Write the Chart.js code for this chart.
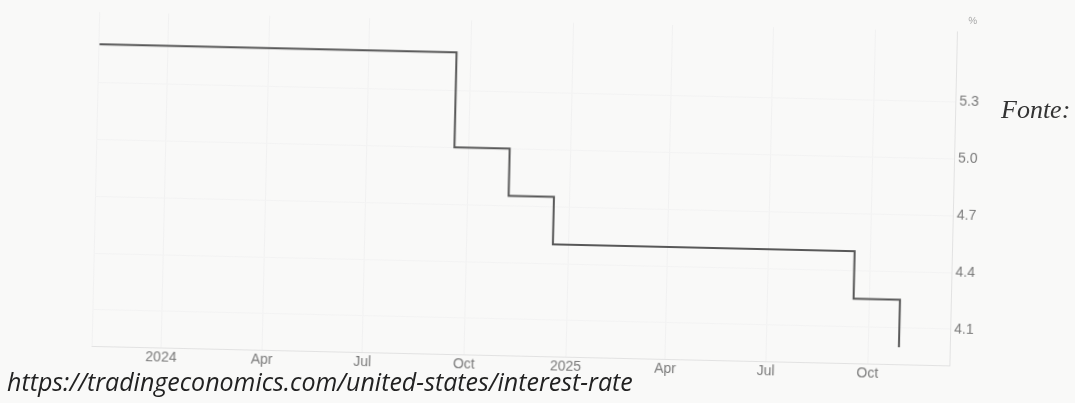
<!DOCTYPE html>
<html>
<head>
<meta charset="utf-8">
<script src="https://cdn.jsdelivr.net/npm/chart.js@4.4.1/dist/chart.umd.min.js"></script>
<style>
  html, body { margin: 0; padding: 0; width: 1075px; height: 403px; overflow: hidden; background: #f9f9f8; }
  /* the chart in the photo is tilted a little clockwise */
  #frame { position: absolute; left: 0; top: 0; width: 1075px; height: 403px;
           transform: rotate(1.3deg); transform-origin: 537.5px 201.5px; }
  #unit { position: absolute; left: 964px; top: 5px; font: 10px "Liberation Sans", Arial, sans-serif; color: #aaa; }
  #fonte { position: absolute; left: 1001px; top: 97px; font: italic 26px/26px "Liberation Serif", serif; color: #333; }
  #url { position: absolute; left: 7px; top: 369px; font: italic 25px/25px "Open Sans", sans-serif; color: #222; white-space: nowrap; }
</style>
</head>
<body>
<div id="frame">
  <canvas id="rateChart"></canvas>
  <span id="unit">%</span>
</div>
<div id="fonte">Fonte:</div>
<div id="url">https://tradingeconomics.com/united-states/interest-rate</div>

<script>
// Taxa de juros dos EUA (limite superior), datas das mudanças
const changeDates = ["2023-10-31", "2024-09-18", "2024-11-07", "2024-12-18", "2025-09-17", "2025-10-29"];
const rateValues = [5.5, 5.0, 4.75, 4.5, 4.25, 4.0];

// Rótulos do eixo x
const tickDates = ["2024-01-01", "2024-04-01", "2024-07-01", "2024-10-01", "2025-01-01", "2025-04-01", "2025-07-01", "2025-10-01"];
const tickLabels = ["2024", "Apr", "Jul", "Oct", "2025", "Apr", "Jul", "Oct"];

// Rótulos do eixo y
const yTicks = [4.1, 4.4, 4.7, 5.0, 5.3];

// dias desde 1 jan 2024
function dayOf(s) {
  return (Date.parse(s) - Date.parse("2024-01-01")) / 86400000;
}

const xMin = -63;
const xMax = 713;
const tickDays = tickDates.map(dayOf);

const ctx = document.getElementById("rateChart").getContext("2d");
new Chart(ctx, {
  type: "line",
  data: {
    datasets: [
      {
        data: changeDates.map((d, i) => ({ x: dayOf(d), y: rateValues[i] })),
        stepped: true,
        borderColor: "#585858",
        borderWidth: 2,
        pointRadius: 0,
        fill: false,
      },
    ],
  },
  options: {
    responsive: true,
    maintainAspectRatio: false,
    animation: false,
    layout: { padding: { left: 95, top: 22, right: 0, bottom: 0 } },
    plugins: {
      legend: { display: false },
      tooltip: { enabled: false },
    },
    scales: {
      x: {
        type: "linear",
        min: xMin,
        max: xMax,
        afterBuildTicks: (scale) => {
          scale.ticks = [{ value: xMin }].concat(tickDays.map((v) => ({ value: v })));
        },
        afterFit: (scale) => {
          scale.height = 47;
        },
        ticks: {
          autoSkip: false,
          maxRotation: 0,
          padding: 2,
          color: "#7a7a7a",
          font: { family: "'Liberation Sans', Arial, sans-serif", size: 14 },
          callback: (value) => {
            const i = tickDays.indexOf(value);
            return i >= 0 ? tickLabels[i] : "";
          },
        },
        grid: { color: "#f1f1f1", drawTicks: false },
        border: { display: true, color: "#e2e2e2" },
      },
      y: {
        position: "right",
        min: 3.91,
        max: 5.67,
        afterBuildTicks: (scale) => {
          scale.ticks = yTicks.map((v) => ({ value: v }));
        },
        afterFit: (scale) => {
          scale.width = 122;
        },
        ticks: {
          padding: 4,
          color: "#7a7a7a",
          font: { family: "'Liberation Sans', Arial, sans-serif", size: 14 },
          callback: (value) => value.toFixed(1),
        },
        grid: { color: "#f3f3f3", drawTicks: false },
        border: { display: true, color: "#e2e2e2" },
      },
    },
  },
});
</script>
</body>
</html>
